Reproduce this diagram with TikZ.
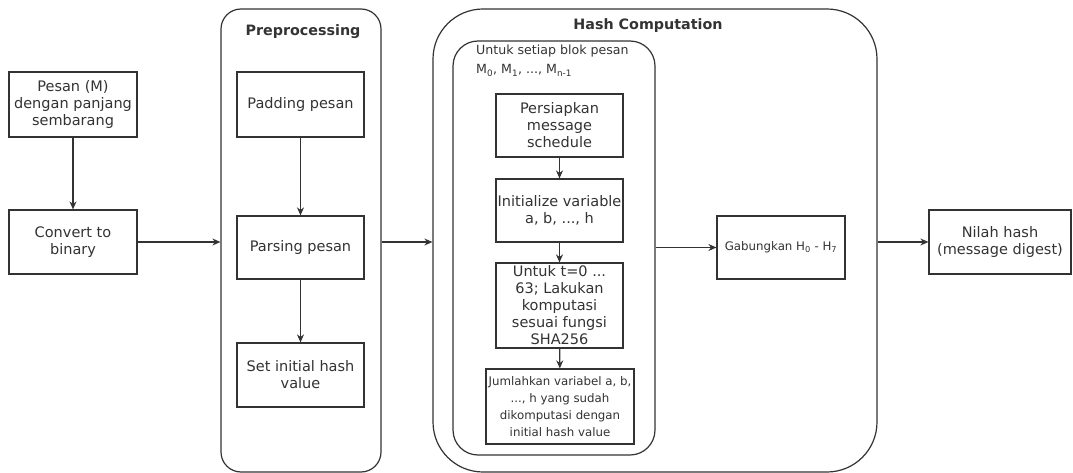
\documentclass[tikz,border=0pt]{standalone}
\usepackage{fontspec}
\setmainfont{DejaVu Sans}
\usetikzlibrary{arrows.meta}
\definecolor{ink}{HTML}{333333}
\tikzset{
  box/.style={draw=ink, line width=1.2pt, align=center, inner sep=1pt, text=ink, font=\fontsize{14.5}{17}\selectfont},
  smallbox/.style={box, font=\fontsize{11.8}{17}\selectfont},
  group/.style={draw=ink, line width=1.2pt, inner sep=0pt},
  title/.style={text=ink, font=\fontsize{14.3}{16}\selectfont\bfseries},
  arr/.style={draw=ink, line width=1.2pt, -{Stealth[length=8pt,width=7pt]}},
}
\begin{document}
\begin{tikzpicture}[x=1pt,y=-1pt]
\useasboundingbox[fill=white] (0,0) rectangle (1073,473);
% containers
\node[group, rounded corners=20pt, minimum width=160pt, minimum height=463pt] (pre) at (301,240.5) {};
\node[title] (pretitle) at (303,32) {Preprocessing};
\node[group, rounded corners=50pt, minimum width=444pt, minimum height=463pt] (hashc) at (655,240.5) {};
\node[title] (hashtitle) at (648,26) {Hash Computation};
\node[group, rounded corners=25pt, minimum width=202pt, minimum height=414pt] (inner) at (554,248) {};
\node[anchor=north west, align=left, inner sep=0pt, text=ink, font=\fontsize{12.6}{19}\selectfont] (blok) at (476,45) {Untuk setiap blok pesan\\M\textsubscript{0}, M\textsubscript{1}, ..., M\textsubscript{n-1}};
% left boxes
\node[box, minimum width=128pt, minimum height=65pt] (pesan) at (73,104.5) {Pesan (M)\\dengan panjang\\sembarang};
\node[box, minimum width=128pt, minimum height=64pt] (conv) at (73,242) {Convert to\\binary};
% preprocessing
\node[box, minimum width=127pt, minimum height=65pt] (pad) at (300.5,104.5) {Padding pesan};
\node[box, minimum width=127pt, minimum height=63pt] (parse) at (300.5,247.5) {Parsing pesan};
\node[box, minimum width=127pt, minimum height=64pt] (setinit) at (300.5,375) {Set initial hash\\value};
% hash computation
\node[box, minimum width=127pt, minimum height=63pt] (prep) at (559.5,125.5) {Persiapkan\\message\\schedule};
\node[box, minimum width=127pt, minimum height=63pt] (initv) at (559.5,210.5) {Initialize variable\\a, b, ..., h};
\node[box, minimum width=127pt, minimum height=85pt] (loop) at (559.5,305.5) {Untuk t=0 ...\\63; Lakukan\\komputasi\\sesuai fungsi\\SHA256};
\node[smallbox, minimum width=148pt, minimum height=75pt] (jum) at (560,406.5) {Jumlahkan variabel a, b,\\..., h yang sudah\\dikomputasi dengan\\initial hash value};
\node[smallbox, minimum width=128pt, minimum height=63pt] (gab) at (781,247.5) {Gabungkan H\textsubscript{0} - H\textsubscript{7}};
\node[box, minimum width=142pt, minimum height=64pt] (nilah) at (1000,242) {Nilah hash\\(message digest)};
% arrows
\draw[arr] (pesan) -- (conv);
\draw[arr] (conv.east) -- (conv.east -| pre.west);
\draw[arr] (pad) -- (parse);
\draw[arr] (parse) -- (setinit);
\draw[arr] (pre.east |- conv.east) -- (hashc.west |- conv.east);
\draw[arr] (prep) -- (initv);
\draw[arr] (initv) -- (loop);
\draw[arr] (loop) -- (jum);
\draw[arr] (inner.east |- gab.west) -- (gab.west);
\draw[arr] (hashc.east |- nilah.west) -- (nilah.west);
\end{tikzpicture}
\end{document}
